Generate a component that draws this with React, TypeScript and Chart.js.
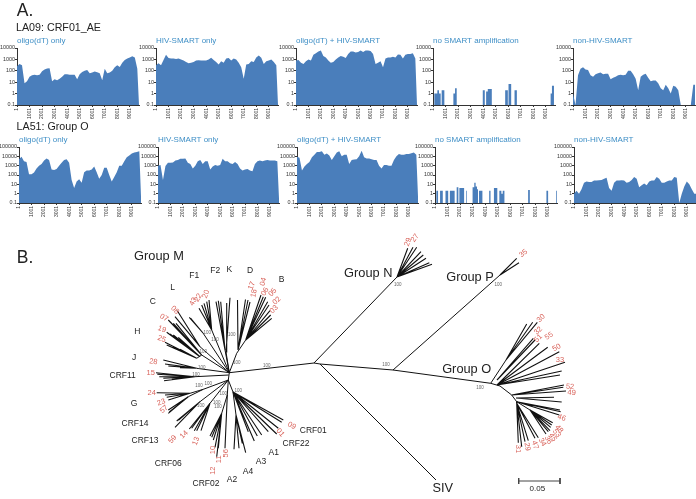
import React, { useEffect, useRef } from "react";
import { Chart, registerables } from "chart.js";

Chart.register(...registerables);

const FONT = '"Liberation Sans", Arial, sans-serif';
const AREA = "#4a7ebb";
const TITLE_BLUE = "#3f8fc6";
const INK = "#333333";
const RED = "#d9645c";

// ---------- Panel A data ----------
const genomePos = [
  1, 201, 401, 601, 801, 1001, 1201, 1401, 1601, 1801, 2001, 2201, 2401, 2601, 2801, 3001, 3201, 3401, 3601, 3801,
  4001, 4201, 4401, 4601, 4801, 5001, 5201, 5401, 5601, 5801, 6001, 6201, 6401, 6601, 6801, 7001, 7201, 7401, 7601,
  7801, 8001, 8201, 8401, 8601, 8801, 9001, 9201, 9401, 9601, 9736,
];
const genomeEnd = 9736;
const xTickValues = [1, 1001, 2001, 3001, 4001, 5001, 6001, 7001, 8001, 9001];
const yTicksRow1 = [0.1, 1, 10, 100, 1000, 10000];
const yTicksRow2 = [0.1, 1, 10, 100, 1000, 10000, 100000];
const panelTitles = ["oligo(dT) only", "HIV-SMART only", "oligo(dT) + HIV-SMART", "no SMART amplification", "non-HIV-SMART"];

const la09Oligo = [250, 400, 300, 8, 12, 30, 40, 45, 40, 45, 90, 130, 160, 170, 12, 18, 15, 20, 30, 50, 50, 45, 45, 45, 18, 50, 80, 100, 120, 60, 70, 85, 75, 60, 15, 150, 60, 70, 100, 200, 300, 220, 500, 900, 1200, 1500, 1900, 1500, 150, 0.1];
const la09Smart = [300, 450, 300, 900, 2500, 1300, 1200, 1200, 1100, 1200, 1000, 800, 600, 450, 500, 600, 800, 850, 800, 800, 800, 1000, 1400, 900, 600, 350, 700, 500, 1200, 1300, 800, 1200, 1000, 500, 200, 20, 350, 400, 700, 600, 1500, 2200, 1400, 400, 700, 800, 1000, 600, 300, 0.1];
const la09Both = [800, 900, 500, 400, 700, 1000, 800, 2500, 3500, 5000, 6000, 2000, 1500, 800, 500, 600, 1000, 1500, 2000, 1700, 1300, 3000, 5000, 5000, 4000, 4500, 6000, 4500, 6000, 6000, 5500, 3000, 400, 500, 700, 200, 1200, 1500, 1500, 1700, 1500, 2700, 2500, 1200, 2500, 3000, 3000, 3500, 1200, 0.1];
const la09NoneStart = [1, 107, 347, 480, 613, 693, 907, 1627, 1760, 1893, 3973, 4133, 4240, 4373, 4693, 5760, 5973, 6027, 6240, 6507, 6693, 9387, 9493, 9653, 9736];
const la09NoneDepth = [0.1, 1, 2, 1, 0.1, 2, 0.1, 1, 3, 0.1, 2, 0.1, 1.5, 2.5, 0.1, 2, 0.1, 7, 0.1, 2, 0.1, 1, 5, 0.1, 0.1];
const la09Other = [1, 0.1, 40, 150, 200, 130, 120, 40, 30, 50, 60, 70, 50, 55, 55, 18, 25, 30, 40, 45, 40, 45, 100, 100, 50, 20, 2, 30, 45, 55, 25, 12, 14, 14, 8, 3, 2, 6, 3, 1, 5, 4, 2, 0.1, 0.1, 0.1, 0.1, 0.1, 6, 6];

const la51Oligo = [5000, 9000, 3000, 2500, 120, 120, 180, 500, 1000, 1500, 3500, 6000, 4000, 400, 350, 450, 1000, 2000, 4000, 5000, 2000, 30, 4, 20, 35, 15, 200, 300, 300, 400, 800, 200, 40, 100, 600, 600, 100, 20, 60, 200, 1000, 1000, 3000, 8000, 12000, 20000, 25000, 30000, 35000, 0.5];
const la51Smart = [1000, 1200, 30, 900, 2000, 2000, 2200, 3500, 4000, 5500, 5500, 6000, 2000, 1500, 500, 1000, 3000, 4000, 1500, 3000, 3000, 400, 800, 1200, 1000, 1200, 5500, 3000, 3000, 1800, 1500, 2500, 1500, 500, 300, 400, 450, 300, 250, 1500, 3000, 3500, 3000, 3500, 4000, 3500, 3500, 3500, 3000, 0.3];
const la51Both = [9000, 7000, 300, 800, 1500, 2500, 8000, 15000, 30000, 30000, 35000, 15000, 20000, 12000, 4000, 10000, 25000, 35000, 10000, 15000, 15000, 1500, 4000, 4500, 5000, 10000, 40000, 8000, 6000, 6000, 5000, 4000, 4000, 1000, 500, 1200, 1200, 1000, 1000, 4000, 10000, 18000, 15000, 15000, 18000, 18000, 22000, 25000, 15000, 0.5];
const la51NoneStart = [1, 108, 243, 405, 622, 838, 1054, 1189, 1568, 1730, 1865, 1946, 2324, 2486, 2541, 3000, 3135, 3243, 3351, 3432, 3514, 3784, 4324, 4432, 4703, 4973, 5135, 5297, 5405, 5541, 7432, 7568, 8892, 9027, 9676, 9736];
const la51NoneDepth = [0.1, 2, 0.1, 2, 0.1, 2, 0.1, 2, 0.1, 5, 0.1, 4, 0.1, 2, 0.1, 5, 15, 6, 3, 0.1, 2, 0.1, 2, 0.1, 4, 0.1, 2, 1, 2, 0.1, 2.5, 0.1, 2, 0.1, 2, 2];
const la51Other = [1, 2, 1, 3, 15, 20, 18, 18, 25, 25, 28, 30, 40, 50, 4, 2, 15, 25, 25, 28, 25, 15, 18, 30, 60, 40, 5, 8, 12, 8, 20, 25, 25, 60, 40, 15, 15, 20, 25, 25, 60, 50, 0.1, 1, 6, 20, 10, 3, 1, 1];

const row1Series = [la09Oligo, la09Smart, la09Both, la09NoneDepth, la09Other];
const row2Series = [la51Oligo, la51Smart, la51Both, la51NoneDepth, la51Other];
const row1Pos = [genomePos, genomePos, genomePos, la09NoneStart, genomePos];
const row2Pos = [genomePos, genomePos, genomePos, la51NoneStart, genomePos];
const steppedPanels = [false, false, false, true, false];

// Frame of each small multiple on the page
const row1AxisX = [17, 156, 296, 433, 573];
const row1Right = [139, 278, 417, 555, 695];
const row2AxisX = [19, 158, 297, 435, 574];
const row2Right = [141, 279, 418, 557, 696];
const row1Top = 48;
const row1Bottom = 105;
const row2Top = 147;
const row2Bottom = 203;

// ---------- Panel B data (unrooted tree, layout units) ----------
type Pt = [number, number];
const backbone: Pt[][] = [
  [[314, 363], [397, 277]],
  [[314, 363], [229.3, 372.7]],
  [[314, 363], [320, 364]],
  [[320, 364], [393, 370], [490.7, 383.3]],
  [[393, 370], [500, 275]],
  [[320, 364], [436, 480]],
  [[229.3, 372.7], [228.3, 380]],
  [[229.3, 372.7], [236.7, 353.3], [245.7, 340]],
  [[229.3, 372.7], [226, 352]],
  [[229.3, 372.7], [225, 350]],
  [[229.3, 372.7], [211.7, 330]],
  [[229.3, 372.7], [203, 333]],
  [[229.3, 372.7], [200, 346.7]],
  [[229.3, 372.7], [201.7, 355], [196.7, 358.3]],
  [[229.3, 372.7], [196.7, 368.3]],
  [[228.7, 375], [195, 376.7]],
  [[228.3, 380], [203.3, 389.3], [190, 393.3]],
  [[203.3, 389.3], [188.3, 396.7]],
  [[228.3, 380], [200, 401.7]],
  [[228.3, 380], [210, 403.3]],
  [[228.3, 380], [227.3, 395], [221.7, 413.3]],
  [[228.3, 380], [233, 392]],
  [[233, 392], [236, 415]],
  [[490.7, 383.3], [500, 386], [511.7, 395], [516.7, 401.7], [516.7, 403.3]],
  [[490.7, 383.3], [506, 360]],
  [[516.7, 401.7], [530, 410]],
];
const fanRoots: Pt[] = [
  [397, 277], [500, 275],
  [245.7, 340], [238, 350], [226, 352], [225, 350], [211.7, 330], [203, 333], [200, 346.7], [201.7, 355], [200, 356.7], [196.7, 358.3], [196.7, 368.3], [195, 376.7],
  [190, 393.3], [188.3, 396.7], [200, 401.7], [210, 403.3], [221.7, 413.3], [227.3, 395], [236, 415], [233, 392],
  [506, 360], [497, 380], [497, 385], [511.7, 395], [516, 398], [516.7, 401.7], [530, 410], [516.7, 403.3],
];
const fanTips: Pt[][] = [
  [[407.7, 248.3], [413, 247.3], [416.7, 247.3], [421, 251.7], [423.3, 255], [426, 258.3], [429.3, 262.7], [432, 264.3]],
  [[516.7, 258.3], [519, 262.7]],
  [[261, 295], [263.3, 296.7], [265.7, 297.3], [267.7, 301.7], [269, 305], [270, 310.7], [270.7, 315], [271.7, 318.3]],
  [[237.5, 300], [245.5, 299.5], [248, 300], [250, 302]],
  [[230, 297.7], [226.7, 303]],
  [[216, 301.7], [218.3, 300.7], [220.7, 301.7]],
  [[199, 308.3], [201.7, 305], [204, 303.3], [206.7, 301.7], [209, 300]],
  [[189.3, 317.3], [190.7, 318.3]],
  [[177.3, 310.7], [175, 316.7]],
  [[168.3, 320], [170.7, 322.3], [173.3, 323.3], [176, 323.3], [178.3, 326]],
  [[166.7, 332.3], [170, 334], [173.3, 335], [178.3, 337.3]],
  [[165, 342.3], [166.7, 345], [169, 346], [173.3, 347.3], [180, 349.3]],
  [[163.3, 360], [165, 364], [168.3, 366], [180, 367.7]],
  [[156, 372.7], [157.3, 374.3], [159.3, 376.7], [163.3, 378.3], [164, 380.7], [171.7, 379.3]],
  [[156.7, 392.7], [165, 395], [166.7, 397.3], [168.3, 400]],
  [[168.3, 410], [169.3, 412], [168.3, 413.3]],
  [[176.7, 421], [178.7, 420], [181.7, 417.3], [175, 427.3]],
  [[189.3, 429], [191.7, 428.3], [194.3, 430.7], [196.7, 430.7], [201, 430.7]],
  [[210, 436], [211.7, 437.3], [213.3, 440], [215, 447.3], [216.7, 456.7], [218.3, 448.3]],
  [[225, 448.3]],
  [[234, 449.3], [239, 448.3], [242.3, 443.3], [245.7, 452.7]],
  [[248.3, 431.7], [254.3, 441], [257.3, 436], [261.7, 435], [268.3, 431.7], [271.7, 429.3], [276.7, 434], [278.3, 428.3], [281.7, 422.3], [283.3, 420]],
  [[526.7, 324], [532.7, 322.3], [537.3, 322.3]],
  [[533.3, 338.3], [535, 340]],
  [[539.3, 343.3], [547.7, 347.3], [559.3, 351.7], [565, 362.3], [561.7, 371], [560, 375]],
  [[564, 385], [563.3, 387.3], [566, 391]],
  [[554, 397.3], [561.7, 402]],
  [[560, 410], [560.7, 411.7], [559.3, 415]],
  [[552.7, 422.7], [551.7, 425], [550.7, 427.3], [550, 430.7], [548.3, 431.7], [546, 434]],
  [[538.3, 437.7], [535, 438.3], [528.3, 440.7], [525, 441.7], [521.7, 446.7], [518.3, 442.7]],
];
const scaleBar: Pt[][] = [
  [[518.7, 481], [560, 481]],
  [[518.7, 478], [518.7, 484]],
  [[560, 478], [560, 484]],
];

// text, x, y, size, rotation in degrees
type Lab = [string, number, number, number, number];
const headingLabels: Lab[] = [
  ["A.", 25, 11, 17.5, 0],
  ["LA09: CRF01_AE", 58.5, 28.5, 10.7, 0],
  ["LA51: Group O", 52.5, 127.5, 10.7, 0],
  ["B.", 25, 258, 17.5, 0],
];
const cladeLabels: Lab[] = [
  ["Group M", 159, 256.5, 12.8, 0],
  ["Group N", 368.3, 273.5, 12.8, 0],
  ["Group P", 470, 277.5, 12.8, 0],
  ["Group O", 466.7, 369, 12.8, 0],
  ["SIV", 442.7, 488, 12.8, 0],
  ["F1", 194.3, 275.7, 8.5, 0],
  ["F2", 215.3, 271, 8.5, 0],
  ["K", 229.3, 269.5, 8.5, 0],
  ["D", 250, 271, 8.5, 0],
  ["B", 281.7, 280, 8.5, 0],
  ["L", 172.7, 287.5, 8.5, 0],
  ["C", 152.7, 301.7, 8.5, 0],
  ["H", 137.3, 331.7, 8.5, 0],
  ["J", 134, 357.5, 8.5, 0],
  ["CRF11", 122.7, 376, 8.5, 0],
  ["G", 134, 403.5, 8.5, 0],
  ["CRF14", 135, 423.7, 8.5, 0],
  ["CRF13", 145, 440.7, 8.5, 0],
  ["CRF06", 168.3, 463.5, 8.5, 0],
  ["CRF02", 206, 484, 8.5, 0],
  ["A2", 232, 479.5, 8.5, 0],
  ["A4", 248, 471.7, 8.5, 0],
  ["A3", 261, 461.7, 8.5, 0],
  ["A1", 273.7, 453, 8.5, 0],
  ["CRF22", 296, 444, 8.5, 0],
  ["CRF01", 313.3, 430.7, 8.5, 0],
  ["0.05", 537.3, 488.7, 8, 0],
];
const accessionLabels: Lab[] = [
  ["08", 175, 310, 7.5, 45], ["07", 164, 317.7, 7.5, 30], ["19", 162, 329.3, 7.5, 20], ["25", 161.7, 339, 7.5, 20],
  ["28", 153.3, 361.7, 7.5, 8], ["15", 150.7, 372.7, 7.5, 0], ["24", 151.7, 392.7, 7.5, 0], ["23", 161.3, 402.3, 7.5, -20],
  ["57", 164, 409.3, 7.5, -40], ["59", 172.7, 439.3, 7.5, -50], ["14", 184, 434.7, 7.5, -45], ["13", 196, 441, 7.5, -70],
  ["10", 212.7, 450, 7.5, -90], ["11", 219.3, 459.3, 7.5, -90], ["56", 226, 453.3, 7.5, -90], ["12", 212.7, 470.7, 7.5, -90],
  ["01", 280.3, 432.7, 7.5, 50], ["09", 291.7, 425.7, 7.5, 30],
  ["43", 193.3, 301.7, 7.5, -60], ["22", 198.3, 297.7, 7.5, -60], ["20", 206, 294, 7.5, -70],
  ["18", 254, 293.3, 7.5, -80], ["17", 251.7, 285.7, 7.5, -70], ["04", 263.3, 281.7, 7.5, -75], ["06", 265, 291.7, 7.5, -60],
  ["05", 272.7, 292.3, 7.5, -50], ["02", 276.7, 300.7, 7.5, -45], ["03", 274, 309.3, 7.5, -45],
  ["29", 408, 242, 7.5, -70], ["27", 415, 238, 7.5, -55], ["35", 523.3, 253.3, 7.5, -40],
  ["30", 541, 318.3, 7.5, -45], ["32", 538.3, 330.7, 7.5, -45], ["51", 538.3, 338.3, 7.5, -45], ["55", 549, 336, 7.5, -35],
  ["50", 556.7, 347.7, 7.5, -30], ["33", 560, 359.7, 7.5, 0], ["52", 570, 386.7, 7.5, 5], ["49", 571.7, 392.7, 7.5, 5],
  ["46", 561.7, 417.7, 7.5, 20], ["48", 559, 429, 7.5, 50], ["53", 556.7, 433.3, 7.5, 55], ["45", 552.7, 437.3, 7.5, 60],
  ["36", 548.3, 440, 7.5, 60], ["34", 542.3, 442.3, 7.5, 60], ["47", 535, 445, 7.5, 70], ["29", 527.3, 446.7, 7.5, 80], ["31", 518.3, 449, 7.5, 90],
];
const supportText = "100";
const supportAt: Pt[] = [
  [207.3, 332.7], [215, 340], [231.7, 334.3], [236.7, 362.7], [203.3, 351.7], [201.7, 367.7], [196, 374.7], [266.7, 366],
  [199, 386], [208.3, 384], [200.7, 406], [216.7, 402.3], [218, 407], [223.3, 393.3], [238.3, 390.7],
  [397.7, 285], [498.3, 285], [386, 365], [480, 387.7],
];

const GAP = { x: NaN, y: NaN };
function chain(paths: Pt[][]) {
  const out: { x: number; y: number }[] = [];
  paths.forEach((p) => {
    p.forEach(([x, y]) => out.push({ x, y }));
    out.push(GAP);
  });
  return out;
}
function fanPaths(): Pt[][] {
  const paths: Pt[][] = [];
  fanRoots.forEach((r, i) => fanTips[i].forEach((t) => paths.push([r, t])));
  return paths;
}

const treeText = {
  id: "treeText",
  afterDatasetsDraw(chart: any) {
    const { ctx, scales } = chart;
    const put = (list: Lab[], color: string) => {
      list.forEach(([t, x, y, size, rot]) => {
        ctx.save();
        ctx.translate(scales.x.getPixelForValue(x), scales.y.getPixelForValue(y));
        ctx.rotate((rot * Math.PI) / 180);
        ctx.font = `${size}px ${FONT}`;
        ctx.fillStyle = color;
        ctx.textAlign = "center";
        ctx.textBaseline = "middle";
        ctx.fillText(t, 0, 0);
        ctx.restore();
      });
    };
    put(headingLabels, "#222222");
    put(cladeLabels, "#222222");
    put(accessionLabels, RED);
    put(supportAt.map(([x, y]) => [supportText, x, y, 4.5, 0] as Lab), "#666666");
  },
};

function TreeChart() {
  const ref = useRef<HTMLCanvasElement>(null);
  useEffect(() => {
    const chart = new Chart(ref.current!, {
      type: "scatter",
      data: {
        datasets: [
          { data: chain(backbone), showLine: true, borderColor: "#111111", borderWidth: 1, pointRadius: 0, spanGaps: false },
          { data: chain(fanPaths()), showLine: true, borderColor: "#111111", borderWidth: 1.1, pointRadius: 0, spanGaps: false },
          { data: chain(scaleBar), showLine: true, borderColor: "#444444", borderWidth: 1, pointRadius: 0, spanGaps: false },
        ],
      },
      options: {
        responsive: false,
        animation: false,
        layout: { padding: 0 },
        plugins: { legend: { display: false }, tooltip: { enabled: false }, title: { display: false } },
        scales: {
          x: { type: "linear", display: false, min: 0, max: 696 },
          y: { type: "linear", display: false, min: 0, max: 499, reverse: true },
        },
      },
      plugins: [treeText],
    } as any);
    return () => chart.destroy();
  }, []);
  return <canvas ref={ref} width={696} height={499} style={{ position: "absolute", left: 0, top: 0 }} />;
}

const AXIS_W = 22;
const TITLE_H = 12;
const BELOW_H = 16;

function Panel(props: {
  title: string; pos: number[]; depth: number[]; stepped: boolean; yTicks: number[];
  axisX: number; right: number; top: number; bottom: number;
}) {
  const { title, pos, depth, stepped, yTicks, axisX, right, top, bottom } = props;
  const ref = useRef<HTMLCanvasElement>(null);
  const width = AXIS_W + (right - axisX) + 1;
  const height = TITLE_H + (bottom - top) + BELOW_H;
  useEffect(() => {
    const chart = new Chart(ref.current!, {
      type: "line",
      data: {
        datasets: [
          {
            data: pos.map((x, i) => ({ x, y: depth[i] })),
            fill: "start",
            backgroundColor: AREA,
            borderWidth: 0,
            pointRadius: 0,
            tension: 0,
            stepped,
          },
        ],
      },
      options: {
        responsive: false,
        animation: false,
        layout: { padding: { right: 1 } },
        plugins: {
          legend: { display: false },
          tooltip: { enabled: false },
          title: {
            display: true,
            text: title,
            align: "start",
            fullSize: false,
            color: TITLE_BLUE,
            font: { family: FONT, size: 8, lineHeight: "10px", weight: "normal" },
            padding: { top: 0, bottom: 2 },
          },
        },
        scales: {
          x: {
            type: "linear",
            min: 1,
            max: genomeEnd,
            afterBuildTicks: (s: any) => { s.ticks = xTickValues.map((value) => ({ value })); },
            afterFit: (s: any) => { s.height = BELOW_H; },
            grid: { drawOnChartArea: false, drawTicks: true, tickLength: 2, color: INK },
            border: { display: true, color: INK, width: 1 },
            ticks: {
              autoSkip: false, maxRotation: 90, minRotation: 90, padding: 1, color: INK,
              font: { family: FONT, size: 5 },
              callback: (v: any) => String(v),
            },
          },
          y: {
            type: "logarithmic",
            min: yTicks[0],
            max: yTicks[yTicks.length - 1],
            afterBuildTicks: (s: any) => { s.ticks = yTicks.map((value) => ({ value })); },
            afterFit: (s: any) => { s.width = AXIS_W; },
            grid: { drawOnChartArea: false, drawTicks: true, tickLength: 2, color: INK },
            border: { display: true, color: INK, width: 1 },
            ticks: {
              autoSkip: false, padding: 0, color: INK,
              font: { family: FONT, size: 5.4 },
              callback: (v: any) => String(v),
            },
          },
        },
      },
    } as any);
    return () => chart.destroy();
  }, []);
  return (
    <canvas
      ref={ref}
      width={width}
      height={height}
      style={{ position: "absolute", left: axisX - AXIS_W, top: top - TITLE_H }}
    />
  );
}

export default function App() {
  return (
    <div style={{ position: "absolute", left: 0, top: 0, width: 696, height: 499, background: "#fff", overflow: "hidden" }}>
      <TreeChart />
      {panelTitles.map((t, i) => (
        <Panel key={"a" + i} title={t} pos={row1Pos[i]} depth={row1Series[i]} stepped={steppedPanels[i]} yTicks={yTicksRow1}
          axisX={row1AxisX[i]} right={row1Right[i]} top={row1Top} bottom={row1Bottom} />
      ))}
      {panelTitles.map((t, i) => (
        <Panel key={"b" + i} title={t} pos={row2Pos[i]} depth={row2Series[i]} stepped={steppedPanels[i]} yTicks={yTicksRow2}
          axisX={row2AxisX[i]} right={row2Right[i]} top={row2Top} bottom={row2Bottom} />
      ))}
    </div>
  );
}
